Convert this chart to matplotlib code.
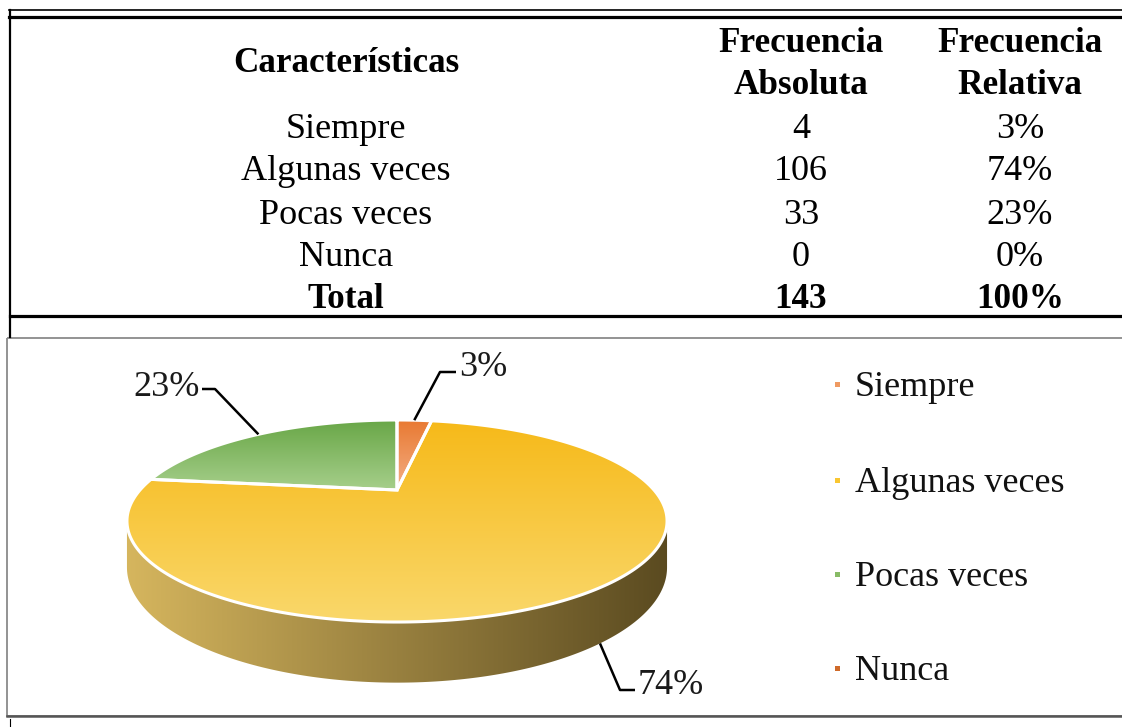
import numpy as np
import matplotlib.pyplot as plt
from matplotlib.patches import Polygon, Rectangle
from matplotlib.colors import to_rgb

# datos de la tabla
categorias = ["Siempre", "Algunas veces", "Pocas veces", "Nunca"]
frec_absoluta = [4, 106, 33, 0]
frec_relativa = ["3%", "74%", "23%", "0%"]
total_abs = "143"
total_rel = "100%"

# colores (arriba / abajo del degradado) por categoria
col_top = ["#E8772E", "#F6B918", "#66A544", "#C55A11"]
col_bot = ["#F4B088", "#FAD86C", "#A8D08D", "#D9824A"]
col_leyenda = ["#EF9A62", "#F9C631", "#88BB66", "#CF6A2A"]
lado_izq, lado_der = "#D6B65E", "#5A4A20"

plt.rcParams["font.family"] = ["Liberation Serif", "DejaVu Serif"]

fig = plt.figure(figsize=(11.22, 7.27), dpi=100)
ax = fig.add_axes([0, 0, 1, 1])
ax.set_xlim(0, 1122)
ax.set_ylim(727, 0)
ax.axis("off")

# ---------------- tabla ----------------
ax.plot([9, 1122], [10, 10], color="black", lw=1.2)
ax.plot([9, 1122], [16.5, 16.5], color="black", lw=2.3)
ax.plot([10, 10], [10, 337], color="black", lw=1.6)
ax.plot([10, 1122], [316, 316], color="black", lw=2.3)

fs = 26
fsb = 25.3
dy = 4  # ajuste vertical del texto
cx1, cx2, cx3 = 346, 801, 1020
ax.text(cx1, 60 + dy, "Características", ha="center", va="center", fontsize=fsb, fontweight="bold")
ax.text(cx2, 40 + dy, "Frecuencia", ha="center", va="center", fontsize=fsb, fontweight="bold")
ax.text(cx2, 82 + dy, "Absoluta", ha="center", va="center", fontsize=fsb, fontweight="bold")
ax.text(cx3, 40 + dy, "Frecuencia", ha="center", va="center", fontsize=fsb, fontweight="bold")
ax.text(cx3, 82 + dy, "Relativa", ha="center", va="center", fontsize=fsb, fontweight="bold")

filas_y = [126, 168, 211, 253]
for yy, cat, fa, fr in zip(filas_y, categorias, frec_absoluta, frec_relativa):
    ax.text(cx1, yy + dy, cat, ha="center", va="center", fontsize=fs)
    ax.text(cx2, yy + dy, str(fa), ha="center", va="center", fontsize=fs)
    ax.text(cx3, yy + dy, fr, ha="center", va="center", fontsize=fs)
ax.text(cx1, 295 + dy, "Total", ha="center", va="center", fontsize=fsb, fontweight="bold")
ax.text(cx2, 295 + dy, total_abs, ha="center", va="center", fontsize=fsb, fontweight="bold")
ax.text(cx3, 295 + dy, total_rel, ha="center", va="center", fontsize=fsb, fontweight="bold")

# recuadro del grafico
ax.add_patch(Rectangle((7, 338), 1130, 378, fill=False, ec="#8A8A8A", lw=1.3))
ax.plot([7, 1122], [716, 716], color="#555555", lw=1.8)
ax.plot([10, 10], [719, 727], color="black", lw=0.8)

# ---------------- pastel 3D (perspectiva) ----------------
pcx, pcy = 397, 490     # vertice en pantalla
s, k, p, D = 257, 91.5, 0.307, 42


def proy(phi, h=0.0):
    # phi en grados, en sentido horario desde el fondo
    r = np.radians(phi)
    u, v = np.sin(r), np.cos(r)
    f = 1.0 / (1 + p * v)
    return pcx + s * u * f, pcy - k * v * f + h * D * f


def gradiente(patch, c0, c1, x0, x1, y0, y1, horizontal=False):
    a, b = np.array(to_rgb(c0)), np.array(to_rgb(c1))
    t = np.linspace(0, 1, 256)[:, None]
    g = a * (1 - t) + b * t
    img = g[None, :, :] if horizontal else g[:, None, :]
    im = ax.imshow(img, extent=(x0, x1, y1, y0), origin="upper",
                   aspect="auto", interpolation="bilinear", zorder=patch.get_zorder())
    im.set_clip_path(patch)


total = sum(frec_absoluta)
fracs = [v / total for v in frec_absoluta]
ang = np.concatenate([[0], np.cumsum(fracs) * 360])

# lado visible (frente)
phi_der = np.degrees(np.arccos(-p))
phi_izq = 360 - phi_der
for i in range(len(categorias)):
    a0, a1 = max(ang[i], phi_der), min(ang[i + 1], phi_izq)
    if a1 <= a0:
        continue
    ph = np.linspace(a0, a1, 200)
    top = np.array([proy(q, 0) for q in ph])
    bot = np.array([proy(q, 1) for q in ph[::-1]])
    lado = Polygon(np.vstack([top, bot]), closed=True, fc="none", ec="white", lw=1.5, zorder=2)
    ax.add_patch(lado)
    gradiente(lado, lado_izq, lado_der, 125, 670, 420, 700, horizontal=True)

# caras superiores
for i in range(len(categorias)):
    if fracs[i] == 0:
        continue
    ph = np.linspace(ang[i], ang[i + 1], 300)
    pts = np.array([proy(q) for q in ph])
    pts = np.vstack([[pcx, pcy], pts])
    cara = Polygon(pts, closed=True, fc="none", ec="none", zorder=3)
    ax.add_patch(cara)
    gradiente(cara, col_top[i], col_bot[i], pts[:, 0].min() - 2, pts[:, 0].max() + 2,
              pts[:, 1].min() - 2, pts[:, 1].max() + 2)
    ax.add_patch(Polygon(pts, closed=True, fc="none", ec="white", lw=2.2, zorder=4))

# etiquetas con lineas guia
etq = "#1A1A1A"
def guia(xs, ys):
    ax.plot(xs, ys, color="black", lw=1.8, zorder=5, solid_capstyle="butt")

xa, ya = proy((ang[0] + ang[1]) / 2)
guia([xa, 440, 456], [ya, 372, 372])
ax.text(459, 368, frec_relativa[0], ha="left", va="center", fontsize=fs, color=etq)

xa, ya = proy((ang[2] + ang[3]) / 2)
guia([xa, 215, 202], [ya, 389, 389])
ax.text(200, 387, frec_relativa[2], ha="right", va="center", fontsize=fs, color=etq)

xa, ya = proy((ang[1] + ang[2]) / 2, 1)
guia([xa, 620, 635], [ya, 690, 690])
ax.text(638, 685, frec_relativa[1], ha="left", va="center", fontsize=fs, color=etq)

# leyenda
ley_y = [384, 480, 574, 668]
for yy, cat, c in zip(ley_y, categorias, col_leyenda):
    ax.add_patch(Rectangle((835, yy - 2), 5, 5, fc=c, ec="none"))
    ax.text(855, yy + 3, cat, ha="left", va="center", fontsize=fs, color="#111111")

fig.savefig("out.png", dpi=100)
